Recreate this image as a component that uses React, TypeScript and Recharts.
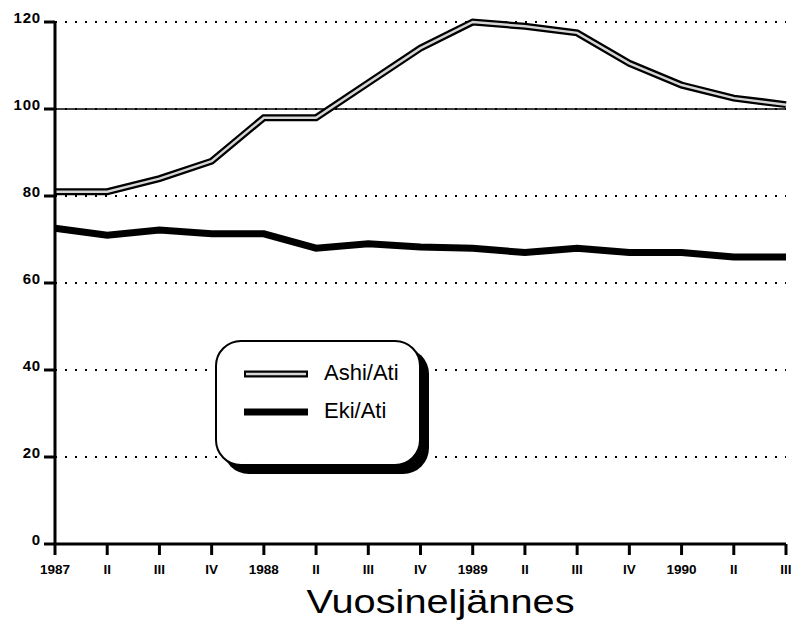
import { LineChart, Line, XAxis, YAxis, CartesianGrid, ReferenceLine, Legend } from 'recharts';

const quarters = ['1987', 'II', 'III', 'IV', '1988', 'II', 'III', 'IV', '1989', 'II', 'III', 'IV', '1990', 'II', 'III'];
const ashiAti = [81, 81, 84, 88, 98, 98, 106, 114, 120, 119, 117.5, 110.5, 105.5, 102.5, 101];
const ekiAti = [72.6, 71, 72.2, 71.3, 71.3, 68, 69, 68.3, 68, 67, 68, 67, 67, 66, 66];
const yTicks = [0, 20, 40, 60, 80, 100, 120];
const seriesNames = ['Ashi/Ati', 'Eki/Ati'];
const xTitle = 'Vuosineljännes';

const data = quarters.map((q, i) => ({ id: i, q, ashi: ashiAti[i], eki: ekiAti[i] }));

const font = '"Liberation Sans", Arial, Helvetica, sans-serif';

function LegendBox() {
  return (
    <div
      style={{
        position: 'relative',
        width: 206,
        height: 126,
        border: '2.5px solid #000',
        borderRadius: 26,
        background: '#fff',
        boxShadow: '8px 8px 0 #000',
        boxSizing: 'border-box',
        fontFamily: font,
        fontSize: 22,
        color: '#000',
        textAlign: 'left',
      }}
    >
      <svg width={66} height={12} style={{ position: 'absolute', left: 26, top: 26 }}>
        <line x1={1} y1={6} x2={65} y2={6} stroke="#000" strokeWidth={7} />
        <line x1={3} y1={6} x2={63} y2={6} stroke="#d6d6d6" strokeWidth={2.5} />
      </svg>
      <div style={{ position: 'absolute', left: 107, top: 18, lineHeight: '26px' }}>{seriesNames[0]}</div>
      <svg width={66} height={12} style={{ position: 'absolute', left: 26, top: 64 }}>
        <line x1={1} y1={6} x2={65} y2={6} stroke="#000" strokeWidth={7} />
      </svg>
      <div style={{ position: 'absolute', left: 107, top: 56, lineHeight: '26px' }}>{seriesNames[1]}</div>
    </div>
  );
}

export default function App() {
  return (
    <div style={{ position: 'absolute', left: 0, top: 0, background: '#fff' }}>
      <LineChart width={791} height={622} data={data} margin={{ top: 22, right: 5, left: 0, bottom: 0 }}>
        <CartesianGrid vertical={false} stroke="#000" strokeWidth={2} strokeDasharray="2 8" />
        <ReferenceLine y={100} stroke="#000" strokeWidth={1.5} />
        <XAxis
          dataKey="id"
          tickFormatter={(i: number) => quarters[i]}
          height={78}
          interval={0}
          axisLine={{ stroke: '#000', strokeWidth: 3 }}
          tickLine={{ stroke: '#000', strokeWidth: 3 }}
          tickSize={11}
          tickMargin={9}
          tick={{ fill: '#000', fontSize: 13.5, fontWeight: 'bold', fontFamily: font }}
          label={{
            value: xTitle,
            position: 'insideBottom',
            offset: 9,
            dx: 20,
            fill: '#000',
            fontSize: 33,
            fontFamily: font,
            textLength: 268,
            lengthAdjust: 'spacingAndGlyphs',
          }}
        />
        <YAxis
          domain={[0, 120]}
          ticks={yTicks}
          width={55}
          axisLine={{ stroke: '#000', strokeWidth: 3 }}
          tickLine={{ stroke: '#000', strokeWidth: 3 }}
          tickSize={11}
          tickMargin={3}
          tick={{ fill: '#000', fontSize: 15, fontWeight: 'bold', fontFamily: font, dy: -4, letterSpacing: 0.8 }}
        />
        <Legend
          layout="horizontal"
          verticalAlign="middle"
          align="center"
          content={() => <LegendBox />}
          wrapperStyle={{ position: 'absolute', left: 215, top: 340, width: 216, height: 136 }}
        />
        <Line dataKey="eki" name={seriesNames[1]} type="linear" stroke="#000" strokeWidth={7} dot={false} isAnimationActive={false} />
        <Line dataKey="ashi" name={seriesNames[0]} type="linear" stroke="#000" strokeWidth={7} dot={false} isAnimationActive={false} />
        <Line dataKey="ashi" name={seriesNames[0] + ' fill'} type="linear" stroke="#d6d6d6" strokeWidth={2.5} dot={false} isAnimationActive={false} legendType="none" />
      </LineChart>
    </div>
  );
}
